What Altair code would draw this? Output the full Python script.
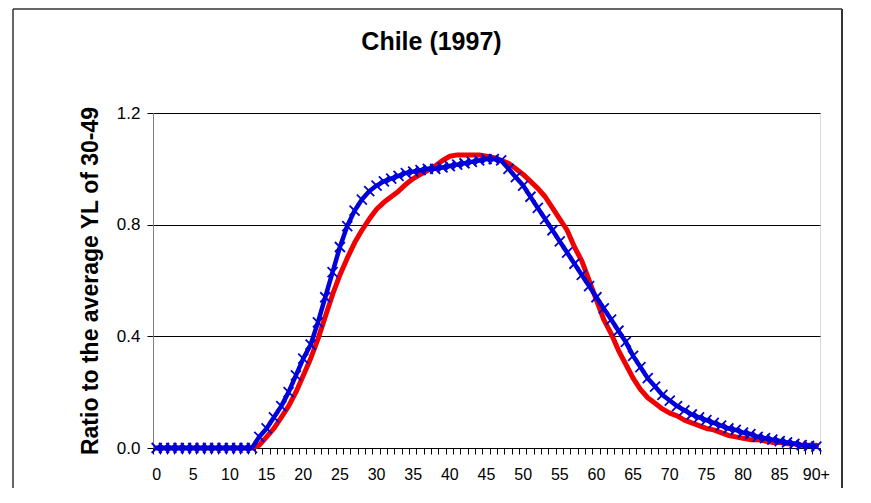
import altair as alt
import pandas as pd

# ---- data ----
ages = list(range(91))
red_values = [
    0, 0, 0, 0, 0, 0, 0, 0, 0, 0,            # 0-9
    0, 0, 0, 0, 0.01, 0.04, 0.07, 0.11, 0.15, 0.20,   # 10-19
    0.26, 0.32, 0.39, 0.47, 0.55, 0.62, 0.68, 0.735, 0.78, 0.82,  # 20-29
    0.855, 0.88, 0.9, 0.92, 0.945, 0.965, 0.98, 0.995, 1.01, 1.03,  # 30-39
    1.045, 1.05, 1.05, 1.05, 1.05, 1.045, 1.04, 1.03, 1.02, 1.00,  # 40-49
    0.98, 0.955, 0.93, 0.90, 0.86, 0.82, 0.78, 0.72, 0.67, 0.60,  # 50-59
    0.53, 0.46, 0.41, 0.35, 0.30, 0.25, 0.21, 0.18, 0.16, 0.14,   # 60-69
    0.125, 0.115, 0.10, 0.09, 0.08, 0.07, 0.065, 0.055, 0.045, 0.04,  # 70-79
    0.035, 0.03, 0.03, 0.025, 0.02, 0.02, 0.015, 0.015, 0.01, 0.01,  # 80-89
    0.01,                                     # 90+
]
blue_values = [
    0, 0, 0, 0, 0, 0, 0, 0, 0, 0,             # 0-9
    0, 0, 0, 0, 0.04, 0.07, 0.11, 0.15, 0.20, 0.26,  # 10-19
    0.32, 0.37, 0.45, 0.54, 0.63, 0.72, 0.795, 0.85, 0.89, 0.92,  # 20-29
    0.94, 0.955, 0.965, 0.975, 0.985, 0.99, 0.995, 1.00, 1.00, 1.005,  # 30-39
    1.01, 1.015, 1.02, 1.025, 1.03, 1.035, 1.035, 1.03, 1.00, 0.97,  # 40-49
    0.94, 0.90, 0.86, 0.82, 0.78, 0.74, 0.70, 0.66, 0.62, 0.58,   # 50-59
    0.54, 0.50, 0.46, 0.42, 0.38, 0.33, 0.29, 0.25, 0.22, 0.19,   # 60-69
    0.17, 0.15, 0.135, 0.12, 0.11, 0.10, 0.09, 0.08, 0.07, 0.065,  # 70-79
    0.055, 0.05, 0.04, 0.035, 0.03, 0.025, 0.02, 0.015, 0.01, 0.008,  # 80-89
    0.005,                                    # 90+
]
y_ticks = [0, 0.4, 0.8, 1.2]
title_text = "Chile (1997)"
y_title = "Ratio to the average YL of 30-49"

W, H = 667, 335
PAD = {"left": 145, "top": 105, "right": 24, "bottom": 40}
FONT = "Liberation Sans"

df = pd.DataFrame({
    "age": ages * 2,
    "value": red_values + blue_values,
    "series": ["red"] * len(ages) + ["blue"] * len(ages),
})

x_enc = alt.X(
    "age:O",
    bandPosition=0.5,
    scale=alt.Scale(type="band", paddingInner=0, paddingOuter=0),
    axis=alt.Axis(
        title=None,
        labelExpr="datum.value == 90 ? '90+' : (datum.value % 5 == 0 ? datum.label : '')",
        labelAngle=0,
        labelOverlap=False,
        labelFont=FONT,
        labelFontSize=16,
        labelColor="#000",
        labelPadding=12,
        bandPosition=1,
        tickExtra=True,
        tickSize=6,
        tickColor="#000",
        domainColor="#000",
        grid=False,
    ),
)
y_enc = alt.Y(
    "value:Q",
    scale=alt.Scale(domain=[0, 1.2], nice=False),
    axis=alt.Axis(
        values=y_ticks,
        format=".1f",
        title=y_title,
        titleFont=FONT,
        titleFontSize=23,
        titleFontWeight="bold",
        titleColor="#000",
        titleAngle=-90,
        titleX=-56,
        titleY=H / 2,
        titleAlign="center",
        titleBaseline="alphabetic",
        labelFont=FONT,
        labelFontSize=17,
        labelColor="#000",
        labelPadding=7,
        tickSize=6,
        tickColor="#000",
        domainColor="#808080",
        grid=True,
        gridColor="#000",
        gridOpacity=1,
    ),
)

base = alt.Chart(df).encode(x=x_enc, y=y_enc)

red_line = base.transform_filter(alt.datum.series == "red").mark_line(
    color="#f00000", strokeWidth=5, strokeCap="round", strokeJoin="round"
)
blue_line = base.transform_filter(alt.datum.series == "blue").mark_line(
    color="#0000d8", strokeWidth=4.5, strokeCap="round", strokeJoin="round"
)
blue_pts = base.transform_filter(alt.datum.series == "blue").mark_point(
    shape="M-1,-1L1,1M-1,1L1,-1", size=100, strokeWidth=1.8,
    color="#0000d8", opacity=1,
)

frame_df = pd.DataFrame({"k": [0]})
frame_left = alt.Chart(frame_df).mark_rule(color="#333", strokeWidth=1.5).encode(
    x=alt.value(-140), y=alt.value(-104), y2=alt.value(H + PAD["bottom"])
)
frame_right = alt.Chart(frame_df).mark_rule(color="#333", strokeWidth=2).encode(
    x=alt.value(689), y=alt.value(-104), y2=alt.value(H + PAD["bottom"])
)
frame_top = alt.Chart(frame_df).mark_rule(color="#333", strokeWidth=1.5).encode(
    x=alt.value(-140), x2=alt.value(689), y=alt.value(-104)
)

chart = alt.layer(
    frame_left, frame_right, frame_top, red_line, blue_line, blue_pts
).properties(
    width=W,
    height=H,
    title=alt.TitleParams(
        title_text, font=FONT, fontSize=25, fontWeight="bold", color="#000",
        anchor="middle", frame="group", dx=-55, offset=-67, baseline="alphabetic",
    ),
    autosize=alt.AutoSizeParams(type="none"),
    padding=PAD,
).configure_view(stroke=None).configure(background="white")

chart.save("out.html", embed_options={"renderer": "svg", "actions": False})
